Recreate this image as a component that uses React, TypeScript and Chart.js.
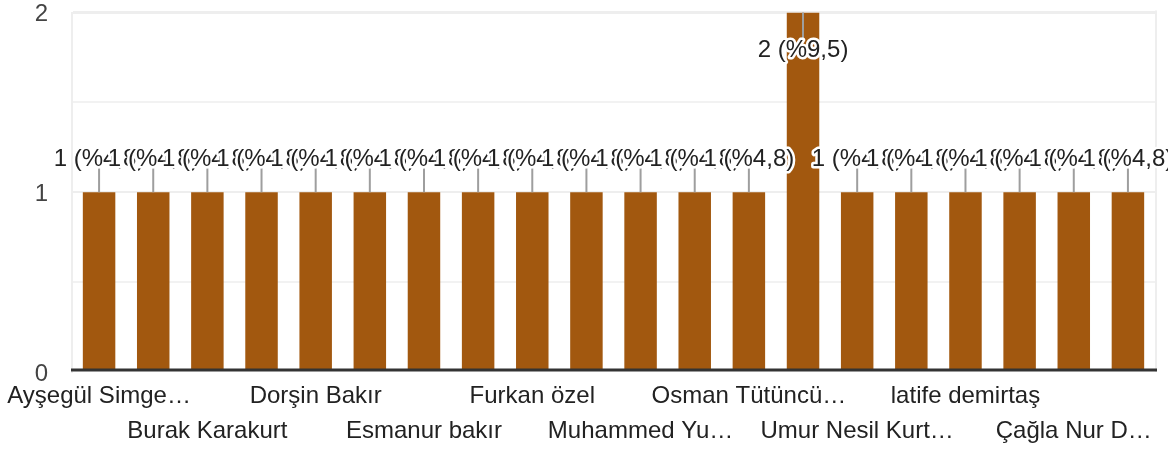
import React, { useEffect, useRef } from "react";
import { Chart, registerables } from "chart.js";

Chart.register(...registerables);

// Category labels (odd-index labels are not shown in the reference and cannot be read)
const CATEGORIES: string[] = [
  "Ayşegül Simge…", "", "Burak Karakurt", "", "Dorşin Bakır", "",
  "Esmanur bakır", "", "Furkan özel", "", "Muhammed Yu…", "",
  "Osman Tütüncü…", "", "Umur Nesil Kurt…", "", "latife demirtaş", "",
  "Çağla Nur D…", "",
];

const VALUES: number[] = [1, 1, 1, 1, 1, 1, 1, 1, 1, 1, 1, 1, 1, 2, 1, 1, 1, 1, 1, 1];

const Y_TICKS: number[] = [0, 1, 2];

const BAR_COLOR = "#a2580f";
const FONT = "'Liberation Sans', Arial, sans-serif";

const TOTAL = VALUES.reduce((a, b) => a + b, 0);
const labelText = (v: number) =>
  `${v} (%${((v / TOTAL) * 100).toFixed(1).replace(".", ",")})`;

const frameAndLabels = {
  id: "frameAndLabels",
  beforeDatasetsDraw(chart: any) {
    const { ctx, chartArea } = chart;
    ctx.save();
    ctx.strokeStyle = "#eeeeee";
    ctx.lineWidth = 2;
    ctx.beginPath();
    ctx.moveTo(chartArea.right + 1, chartArea.top - 2);
    ctx.lineTo(chartArea.right + 1, chartArea.bottom);
    ctx.stroke();
    ctx.restore();
  },
  afterDatasetsDraw(chart: any) {
    const { ctx, chartArea } = chart;
    const meta = chart.getDatasetMeta(0);
    ctx.save();
    // dark baseline (drawn slightly above the scale bottom, over the bars)
    ctx.fillStyle = "#333333";
    ctx.fillRect(chartArea.left - 1, chartArea.bottom - 3.5, chartArea.right - chartArea.left + 3, 3);

    const items = meta.data.map((bar: any, i: number) => {
      const inside = bar.y - 50 < chartArea.top;
      return {
        x: bar.x,
        top: bar.y,
        inside,
        text: labelText(VALUES[i]),
      };
    });
    // leader lines
    ctx.strokeStyle = "#9e9e9e";
    ctx.lineWidth = 2;
    items.forEach((it: any) => {
      ctx.beginPath();
      if (it.inside) {
        ctx.moveTo(it.x, it.top);
        ctx.lineTo(it.x, it.top + 26);
      } else {
        ctx.moveTo(it.x, it.top - 24);
        ctx.lineTo(it.x, it.top);
      }
      ctx.stroke();
    });
    // labels with white halo
    ctx.font = `24px ${FONT}`;
    ctx.textAlign = "center";
    ctx.textBaseline = "middle";
    ctx.lineJoin = "round";
    items.forEach((it: any) => {
      const y = it.inside ? it.top + 38 : it.top - 33;
      ctx.strokeStyle = "#ffffff";
      ctx.lineWidth = 5;
      ctx.strokeText(it.text, it.x, y);
      ctx.fillStyle = "#222222";
      ctx.fillText(it.text, it.x, y);
    });
    ctx.restore();
  },
};

export default function App() {
  const canvasRef = useRef<HTMLCanvasElement | null>(null);

  useEffect(() => {
    document.body.style.margin = "0";
    const canvas = canvasRef.current;
    if (!canvas) return;
    const chart = new Chart(canvas, {
      type: "bar",
      data: {
        labels: CATEGORIES,
        datasets: [
          {
            data: VALUES,
            backgroundColor: BAR_COLOR,
            borderWidth: 0,
            barPercentage: 0.6,
            categoryPercentage: 1,
          },
        ],
      },
      options: {
        animation: false,
        responsive: false,
        devicePixelRatio: 1,
        layout: { padding: { top: 12.5, right: 13, left: 0, bottom: 0 } },
        plugins: {
          legend: { display: false },
          tooltip: { enabled: false },
        },
        scales: {
          x: {
            grid: { display: false, drawTicks: false },
            border: { display: false },
            ticks: {
              autoSkip: false,
              maxRotation: 0,
              minRotation: 0,
              padding: 7,
              color: "#222222",
              font: { family: FONT, size: 24, lineHeight: 1.46 },
              callback: (_v: any, index: number) => {
                const l = CATEGORIES[index];
                if (index % 4 === 0) return l;
                if (index % 4 === 2) return ["", l];
                return "";
              },
            },
            afterFit: (scale: any) => {
              scale.height = 80;
              scale.paddingLeft = 0;
              scale.paddingRight = 0;
              scale.paddingTop = 0;
              scale.paddingBottom = 0;
            },
          },
          y: {
            min: 0,
            max: 2,
            grid: {
              drawTicks: false,
              color: (c: any) => {
                const v = c.tick?.value;
                if (v === 0) return "rgba(0,0,0,0)";
                return Number.isInteger(v) ? "#eeeeee" : "#f2f2f2";
              },
              lineWidth: (c: any) => (c.tick?.value === 2 ? 3 : 2),
            },
            border: { display: true, color: "#eeeeee", width: 2 },
            ticks: {
              stepSize: 0.5,
              padding: 24,
              color: "#444444",
              font: { family: FONT, size: 24, lineHeight: "4px" },
              callback: (v: any) =>
                Y_TICKS.includes(Number(v)) ? ["", String(v)] : "",
            },
            afterFit: (scale: any) => {
              scale.width = 72;
              scale.paddingLeft = 0;
              scale.paddingRight = 0;
              scale.paddingTop = 0;
              scale.paddingBottom = 0;
            },
          },
        },
      },
      plugins: [frameAndLabels],
    });
    return () => chart.destroy();
  }, []);

  return (
    <div style={{ position: "absolute", left: 0, top: 0, width: 1168, height: 452 }}>
      <canvas ref={canvasRef} width={1168} height={452} />
    </div>
  );
}
